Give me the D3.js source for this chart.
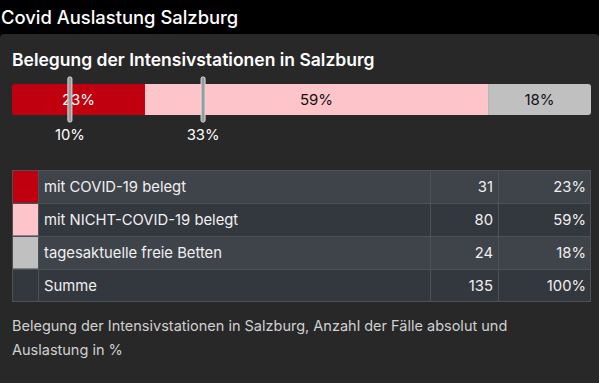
<!DOCTYPE html>
<html><head><meta charset="utf-8">
<script src="https://cdn.jsdelivr.net/npm/d3@7"></script>
<style>
html,body{margin:0;padding:0;background:#282828;}
svg{display:block;}
text{font-family:Inter,"Liberation Sans",Arial,sans-serif;}
</style></head>
<body><svg id="c" width="599" height="383"></svg>
<script>
const categories = ["mit COVID-19 belegt","mit NICHT-COVID-19 belegt","tagesaktuelle freie Betten"];
const values = [31, 80, 24];
const percentLabels = ["23%","59%","18%"];
const colors = ["#c1000f","#fdc4c9","#c0c0c0"];
const textColors = ["#ffffff","#111111","#111111"];
const sumLabel = "Summe";
const sumValue = 135;
const sumPercent = "100%";
const markers = [10, 33];
const markerLabels = ["10%","33%"];

const svg = d3.select("#c");
// header
svg.append("rect").attr("x",0).attr("y",0).attr("width",599).attr("height",40).attr("fill","#000");
svg.append("rect").attr("x",0).attr("y",34).attr("width",599).attr("height",360).attr("rx",4).attr("fill","#282828");
svg.append("text").attr("x",1).attr("y",24).attr("fill","#fff").attr("font-size",18.4).attr("font-weight",500).text("Covid Auslastung Salzburg");
svg.append("text").attr("x",12).attr("y",66).attr("fill","#fff").attr("font-size",17.5).attr("font-weight",600).text("Belegung der Intensivstationen in Salzburg");

// stacked bar
const total = d3.sum(values);
const x = d3.scaleLinear().domain([0,total]).range([12,591]);
const xp = d3.scaleLinear().domain([0,100]).range([12,591]);
let cum = 0;
const segs = values.map((v,i)=>{const s={i,v,x0:cum,x1:cum+v}; cum+=v; return s;});
const barY=84, barH=31;
svg.append("clipPath").attr("id","bc").append("rect").attr("x",x(0)).attr("y",barY).attr("width",x(total)-x(0)).attr("height",barH).attr("rx",3);
const bg = svg.append("g").attr("clip-path","url(#bc)");
bg.selectAll("rect").data(segs).join("rect")
  .attr("x",d=>x(d.x0)).attr("y",barY).attr("width",d=>x(d.x1)-x(d.x0)).attr("height",barH)
  .attr("fill",d=>colors[d.i]);
svg.selectAll("text.bl").data(segs).join("text").attr("class","bl")
  .attr("x",d=>(x(d.x0)+x(d.x1))/2).attr("y",barY+21).attr("text-anchor","middle")
  .attr("font-size",15).attr("fill",d=>textColors[d.i]).text(d=>percentLabels[d.i]);

// markers
const mg = svg.selectAll("g.m").data(markers).join("g").attr("class","m");
mg.append("rect").attr("x",d=>xp(d)-2).attr("y",77).attr("width",4).attr("height",45).attr("rx",1.5)
  .attr("fill","#9a9a9a").attr("stroke","#dddddd").attr("stroke-width",1);
mg.append("text").attr("x",d=>xp(d)).attr("y",140).attr("text-anchor","middle").attr("fill","#fff")
  .attr("font-size",14.8).text((d,i)=>markerLabels[i]);

// table
const rows = categories.map((c,i)=>({label:c,value:values[i],pct:percentLabels[i],color:colors[i]}));
rows.push({label:sumLabel,value:sumValue,pct:sumPercent,color:null});
const ty = d3.scaleBand().domain(d3.range(rows.length)).range([170,302]);
const rowBg = ["#3f434a","#33373e"];
const tg = svg.append("g");
const rg = tg.selectAll("g").data(rows).join("g").attr("transform",(d,i)=>`translate(0,${ty(i)})`);
const rh = ty.bandwidth();
rg.append("rect").attr("x",12).attr("y",0).attr("width",579).attr("height",rh).attr("fill",(d,i)=>rowBg[i%2]);
rg.append("rect").attr("x",12.5).attr("y",0.5).attr("width",26).attr("height",rh-1)
  .attr("fill",(d,i)=>d.color||rowBg[i%2]);
rg.append("text").attr("x",44).attr("y",rh/2+5.5).attr("fill","#f0f0f0").attr("font-size",14.8).text(d=>d.label);
rg.append("text").attr("x",493).attr("y",rh/2+5.5).attr("text-anchor","end").attr("fill","#f0f0f0").attr("font-size",14.8).text(d=>d.value);
rg.append("text").attr("x",586).attr("y",rh/2+5.5).attr("text-anchor","end").attr("fill","#f0f0f0").attr("font-size",14.8).text(d=>d.pct);
// grid lines
const lc = "#4d5158";
rows.forEach((d,i)=>{ if(i>0) tg.append("line").attr("x1",12).attr("x2",591).attr("y1",ty(i)+0.5).attr("y2",ty(i)+0.5).attr("stroke",lc); });
[38.5,430.5,498.5].forEach(xx=>tg.append("line").attr("x1",xx).attr("x2",xx).attr("y1",170).attr("y2",302).attr("stroke",lc));
tg.append("rect").attr("x",12.5).attr("y",170.5).attr("width",578).attr("height",131).attr("fill","none").attr("stroke",lc);

// footnote
svg.append("text").attr("x",12).attr("y",331).attr("fill","#d0d0d0").attr("font-size",14.5).text("Belegung der Intensivstationen in Salzburg, Anzahl der Fälle absolut und");
svg.append("text").attr("x",12).attr("y",355).attr("fill","#d0d0d0").attr("font-size",14.5).text("Auslastung in %");
</script></body></html>
